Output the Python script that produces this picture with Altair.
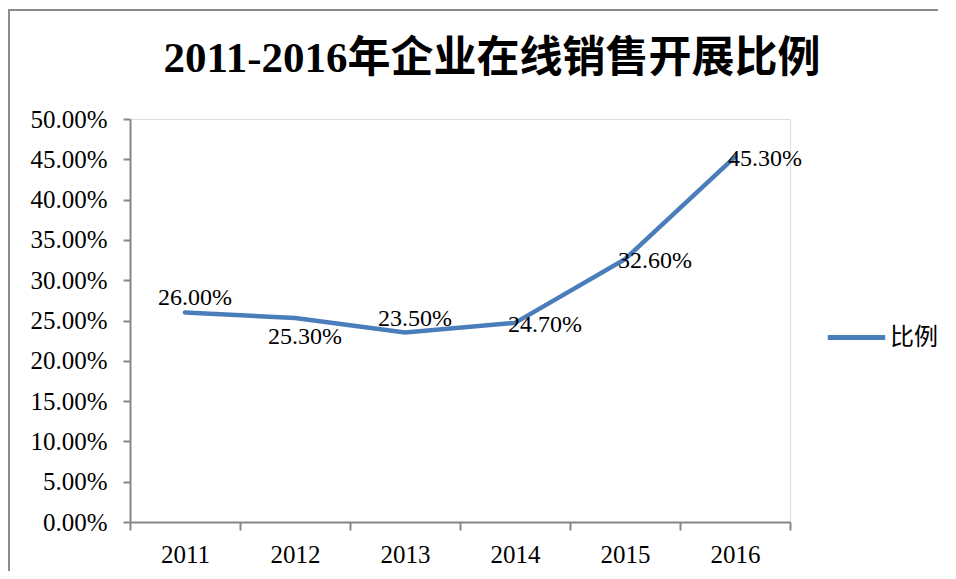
import altair as alt
import pandas as pd

years = ["2011", "2012", "2013", "2014", "2015", "2016"]
values = [0.260, 0.253, 0.235, 0.247, 0.326, 0.453]
series_name = "比例"
label_side = ["above", "below", "above", "right", "right", "right"]
title_text = "2011-2016年企业在线销售开展比例"
y_ticks = [0.0, 0.05, 0.10, 0.15, 0.20, 0.25, 0.30, 0.35, 0.40, 0.45, 0.50]

df = pd.DataFrame({
    "year": years,
    "value": values,
    "series": [series_name] * len(years),
    "side": label_side,
})

SERIF = "'Liberation Serif', 'Times New Roman', 'Noto Sans CJK SC', serif"
BLUE = "#4A7EBB"
AXIS_GRAY = "#868686"

base = alt.Chart(df)

x_enc = alt.X(
    "year:N",
    sort=years,
    scale=alt.Scale(paddingInner=0, paddingOuter=0),
    axis=alt.Axis(
        title=None,
        labelAngle=0,
        tickBand="extent",
        tickSize=8,
        labelPadding=12,
        labelFont=SERIF,
        labelFontSize=25,
        labelColor="#000000",
        domainColor=AXIS_GRAY,
        tickColor=AXIS_GRAY,
        domainWidth=2,
        tickWidth=2,
    ),
)
y_enc = alt.Y(
    "value:Q",
    scale=alt.Scale(domain=[0, 0.5], nice=False, zero=True),
    axis=alt.Axis(
        title=None,
        values=y_ticks,
        format=".2%",
        grid=False,
        tickSize=7,
        labelPadding=16,
        labelFont=SERIF,
        labelFontSize=25,
        labelColor="#000000",
        domainColor=AXIS_GRAY,
        tickColor=AXIS_GRAY,
        domainWidth=2,
        tickWidth=2,
    ),
)

border = base.mark_rect(
    fill="transparent", stroke="#8C8C8C", strokeWidth=2
).encode(
    x=alt.value(-121), x2=alt.value(830), y=alt.value(-109), y2=alt.value(470)
)

line = base.mark_line(strokeWidth=4.5, strokeCap="round").encode(
    x=x_enc,
    y=y_enc,
    color=alt.Color(
        "series:N",
        scale=alt.Scale(domain=[series_name], range=[BLUE]),
        legend=alt.Legend(
            title=None,
            orient="none",
            legendX=695,
            legendY=187,
            symbolType="stroke",
            symbolSize=3300,
            symbolStrokeWidth=5,
            labelFont="Noto Sans CJK SC",
            labelFontSize=24,
            labelColor="#000000",
            labelOffset=2,
            padding=0,
        ),
    ),
)

def labels(side, dx, dy):
    return base.transform_filter(alt.datum.side == side).mark_text(
        font=SERIF, fontSize=24, color="#000000", align="center",
        baseline="middle", dx=dx, dy=dy,
    ).encode(
        x=alt.X("year:N", sort=years),
        y=alt.Y("value:Q"),
        text=alt.Text("value:Q", format=".2%"),
    )

chart = alt.layer(
    border,
    line,
    labels("above", 10, -14),
    labels("below", 10, 19),
    labels("right", 30, 2),
).properties(
    width=660,
    height=403,
    padding={"left": 122, "top": 111, "right": 148, "bottom": 49},
    autosize=alt.AutoSizeParams(type="none"),
    title=alt.TitleParams(
        title_text,
        font=SERIF,
        fontSize=43,
        fontWeight="bold",
        color="#000000",
        anchor="middle",
        dx=32,
        dy=98,
        offset=26,
    ),
).configure_view(stroke=None).configure(background="white")

chart.save("out.html", embed_options={"renderer": "svg", "actions": False})
